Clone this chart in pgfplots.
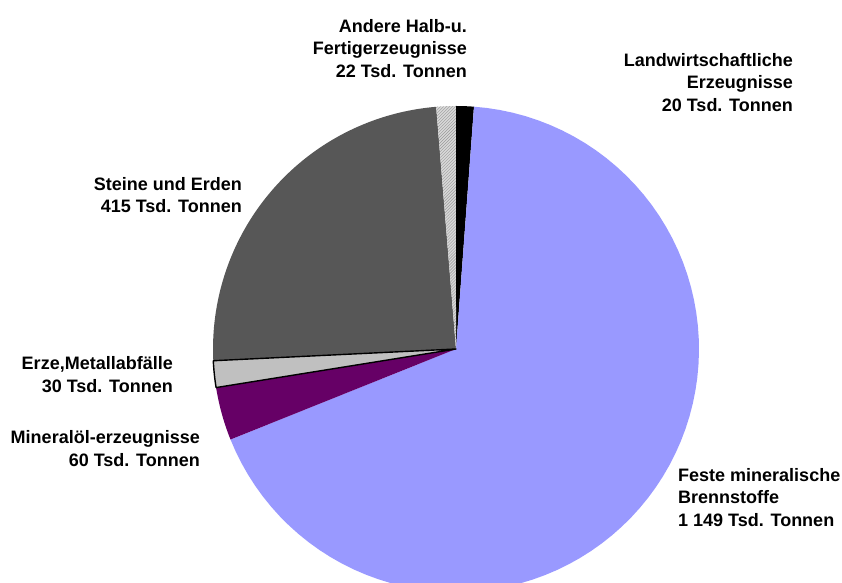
\documentclass[border=0pt]{standalone}
\usepackage{fontspec}
\setmainfont{Liberation Sans}
\usepackage{pgfplots}
\usepackage{pgfplotstable}
\pgfplotsset{compat=1.18}
\usetikzlibrary{patterns}
\definecolor{cFeste}{HTML}{9999FF}
\definecolor{cMin}{HTML}{660066}
\definecolor{cErze}{HTML}{C0C0C0}
\definecolor{cSteine}{HTML}{575757}
\definecolor{cAndere}{HTML}{D8D8D8}

\pgfplotstableread{
name value
Landwirtschaft 20
Feste 1149
Mineraloel 60
Erze 30
Steine 415
Andere 22
}\piedata

\pgfplotstablegetelem{0}{value}\of\piedata \let\vA\pgfplotsretval
\pgfplotstablegetelem{1}{value}\of\piedata \let\vB\pgfplotsretval
\pgfplotstablegetelem{2}{value}\of\piedata \let\vC\pgfplotsretval
\pgfplotstablegetelem{3}{value}\of\piedata \let\vD\pgfplotsretval
\pgfplotstablegetelem{4}{value}\of\piedata \let\vE\pgfplotsretval
\pgfplotstablegetelem{5}{value}\of\piedata \let\vF\pgfplotsretval

\pgfmathsetmacro{\tot}{\vA+\vB+\vC+\vD+\vE+\vF}
\pgfmathsetmacro{\aZ}{90}
\pgfmathsetmacro{\aA}{\aZ-\vA/\tot*360}
\pgfmathsetmacro{\aB}{\aA-\vB/\tot*360}
\pgfmathsetmacro{\aC}{\aB-\vC/\tot*360}
\pgfmathsetmacro{\aD}{\aC-\vD/\tot*360}
\pgfmathsetmacro{\aE}{\aD-\vE/\tot*360}
\pgfmathsetmacro{\aF}{\aE-\vF/\tot*360}

\def\cx{456}
\def\cy{-349}
\def\rr{243}

\begin{document}
\begin{tikzpicture}
\begin{axis}[
  scale only axis, width=842bp, height=583bp,
  xmin=0, xmax=842, ymin=-583, ymax=0,
  hide axis, clip=true,
  samples=80, variable=\t,
]
% Landwirtschaftliche Erzeugnisse
\addplot[fill=black, draw=none, domain=\aA:\aZ] ({\cx+\rr*cos(\t)},{\cy+\rr*sin(\t)}) -- (axis cs:\cx,\cy) -- cycle;
% Feste mineralische Brennstoffe
\addplot[fill=cFeste, draw=none, domain=\aB:\aA] ({\cx+\rr*cos(\t)},{\cy+\rr*sin(\t)}) -- (axis cs:\cx,\cy) -- cycle;
% Mineraloel
\addplot[fill=cMin, draw=none, domain=\aC:\aB] ({\cx+\rr*cos(\t)},{\cy+\rr*sin(\t)}) -- (axis cs:\cx,\cy) -- cycle;
% Steine und Erden
\addplot[fill=cSteine, draw=none, domain=\aE:\aD] ({\cx+\rr*cos(\t)},{\cy+\rr*sin(\t)}) -- (axis cs:\cx,\cy) -- cycle;
% Andere
\addplot[fill=cAndere, draw=none, domain=\aF:\aE] ({\cx+\rr*cos(\t)},{\cy+\rr*sin(\t)}) -- (axis cs:\cx,\cy) -- cycle;
\addplot[pattern=north east lines, pattern color=gray!80, draw=none, domain=\aF:\aE] ({\cx+\rr*cos(\t)},{\cy+\rr*sin(\t)}) -- (axis cs:\cx,\cy) -- cycle;
% Erze
\addplot[fill=cErze, draw=black, line width=1.4bp, line join=round, domain=\aD:\aC] ({\cx+\rr*cos(\t)},{\cy+\rr*sin(\t)}) -- (axis cs:\cx,\cy) -- cycle;

\begin{scope}[every node/.style={font=\fontsize{18bp}{22.5bp}\selectfont\bfseries, inner sep=0pt}]
\node[anchor=north east, align=right] at (axis cs:467,-19) {Andere Halb-u.\\Fertigerzeugnisse\\22 Tsd. Tonnen};
\node[anchor=north east, align=right] at (axis cs:793,-53) {Landwirtschaftliche\\Erzeugnisse\\20 Tsd. Tonnen};
\node[anchor=north east, align=right] at (axis cs:242,-177) {Steine und Erden\\415 Tsd. Tonnen};
\node[anchor=north east, align=right] at (axis cs:173,-356.5) {Erze,Metallabfälle\\30 Tsd. Tonnen};
\node[anchor=north east, align=right] at (axis cs:200,-430.5) {Mineralöl-erzeugnisse\\60 Tsd. Tonnen};
\node[anchor=north west, align=left] at (axis cs:678,-468) {Feste mineralische\\Brennstoffe\\1 149 Tsd. Tonnen};
\end{scope}
\end{axis}
\pgfresetboundingbox
\useasboundingbox (0,0) rectangle (842bp,583bp);
\end{tikzpicture}
\end{document}
